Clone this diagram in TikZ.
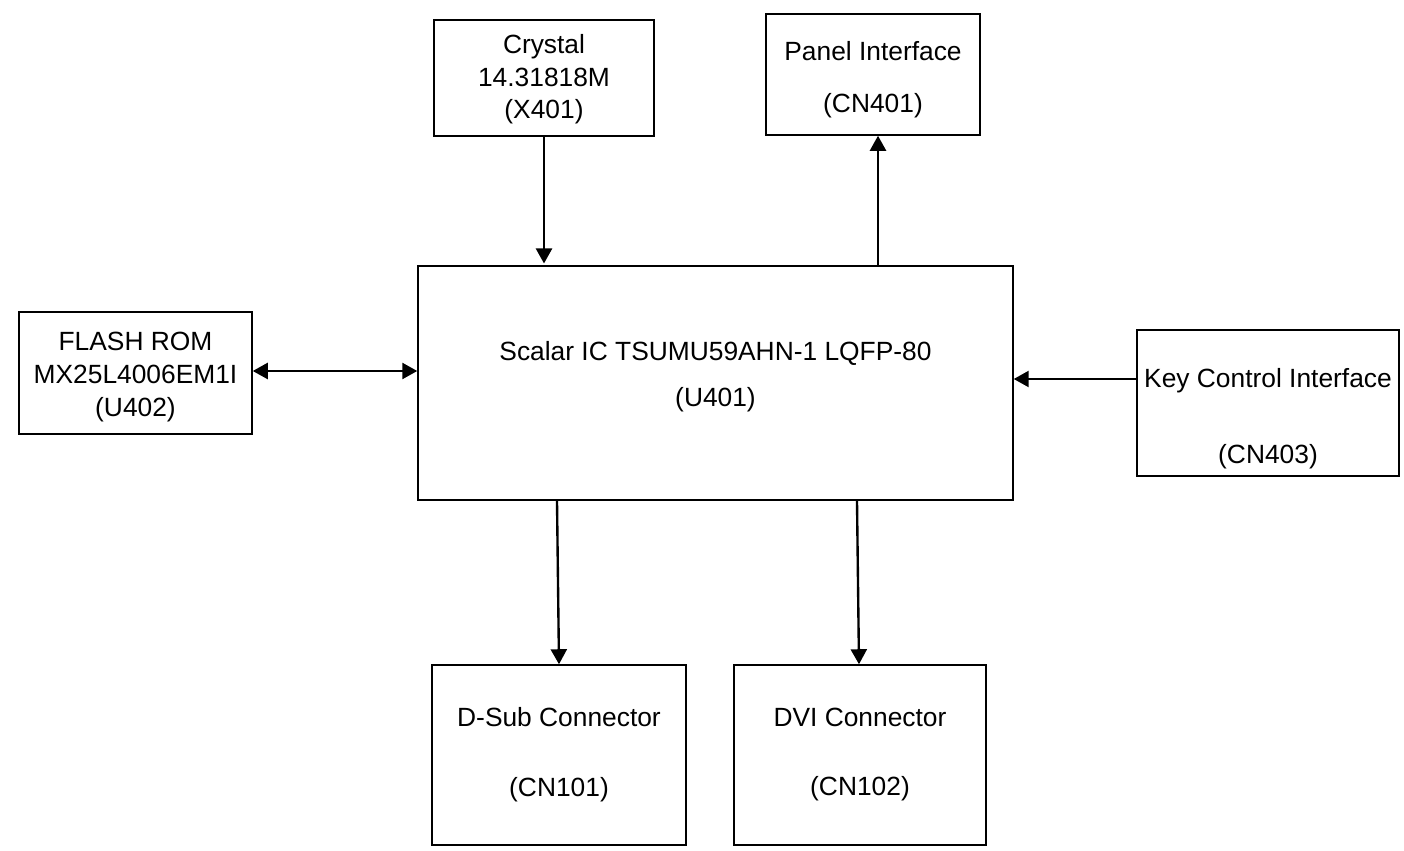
\documentclass[tikz,border=0pt]{standalone}
\usepackage{fontspec}
\setmainfont{Liberation Sans}
\usetikzlibrary{arrows.meta,positioning}

\begin{document}
\begin{tikzpicture}[
  x=0.02cm, y=-0.02cm,
  font=\fontsize{15}{18.7}\selectfont,
  blk/.style={draw, line width=0.9pt, rectangle, align=center, inner sep=0pt},
  link/.style={line width=1.35pt, -{Triangle[length=3mm, width=3.2mm]}},
  dlink/.style={line width=1.35pt, {Triangle[length=3mm, width=3.2mm]}-{Triangle[length=3mm, width=3.2mm]}}
]
\useasboundingbox (0,0) rectangle (1404,851);
% --- blocks ----------------------------------------------------------------
\node[blk, minimum width=4.4cm, minimum height=2.32cm] (crystal) at (544,78)
  {\mbox{}\\[-6.4pt]Crystal\\14.31818M\\(X401)};
\node[blk, minimum width=4.28cm, minimum height=2.42cm] (panel) at (873,74.5)
  {\mbox{}\\[-1.8pt]Panel Interface\\[11pt](CN401)};
\node[blk, minimum width=11.9cm, minimum height=4.68cm] (scalar) at (715.5,383)
  {Scalar IC TSUMU59AHN-1 LQFP-80\\[7.4pt](U401)\\[-8pt]\mbox{}};
\node[blk, minimum width=4.66cm, minimum height=2.44cm] (flash) at (135.5,373)
  {\mbox{}\\[-4pt]FLASH ROM\\MX25L4006EM1I\\(U402)};
\node[blk, minimum width=5.24cm, minimum height=2.92cm] (key) at (1268,403)
  {\mbox{}\\[9.8pt]Key Control Interface\\[24.4pt](CN403)};
\node[blk, minimum width=5.08cm, minimum height=3.6cm] (dsub) at (559,755)
  {D-Sub Connector\\[21pt](CN101)\\[-15pt]\mbox{}};
\node[blk, minimum width=5.04cm, minimum height=3.6cm] (dvi) at (860,755)
  {DVI Connector\\[21pt](CN102)\\[-15pt]\mbox{}};

% --- links -----------------------------------------------------------------
\coordinate (pnl) at ([xshift=0.1cm]panel.south);
\coordinate (kin) at ([yshift=0.48cm]key.west);
\coordinate (dvo) at ([xshift=-0.06cm]dvi.north);
\coordinate (dso) at ([xshift=-0.04cm]dsub.north);
\draw[link, shorten >=1pt] (crystal.south) -- (crystal.south |- scalar.north);
\draw[link] (pnl |- scalar.north) -- (pnl);
\draw[dlink] (flash.east |- 0,371) -- (scalar.west |- 0,371);
\draw[link] (kin) -- (kin -| scalar.east);
\draw[link] (dso |- scalar.south) -- (dsub.north);
\draw[link] (dvo |- scalar.south) -- ([xshift=-0.02cm]dvi.north);
\end{tikzpicture}
\end{document}
